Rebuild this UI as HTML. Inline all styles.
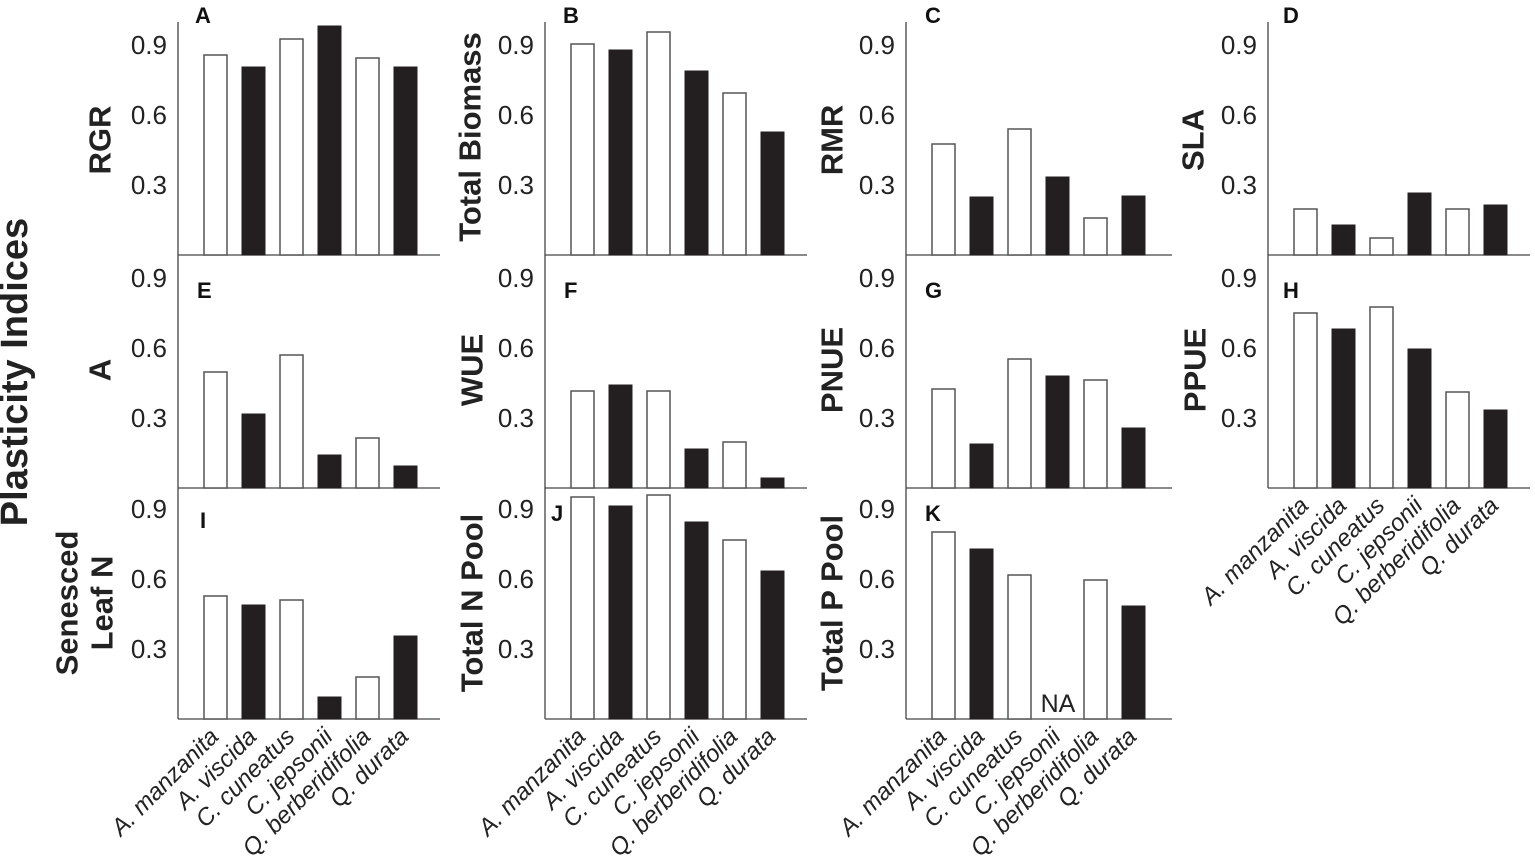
<!DOCTYPE html>
<html><head><meta charset="utf-8"><style>
html,body{margin:0;padding:0;background:#fff;}
svg{display:block;font-family:"Liberation Sans",Arial,sans-serif;}
.t{font-size:26px;fill:#222;text-anchor:end;}
.yl{font-size:31px;font-weight:bold;fill:#222;text-anchor:middle;dominant-baseline:central;}
.pl{font-size:22px;font-weight:bold;fill:#111;}
.xl{font-size:24px;font-style:italic;fill:#222;text-anchor:end;}
.w{fill:#fff;stroke:#555;stroke-width:1.5;}
.b{fill:#231f20;stroke:#231f20;stroke-width:1;}
.ax{stroke:#444;stroke-width:1.3;fill:none;}
</style></head><body>
<svg width="1535" height="863" viewBox="0 0 1535 863">
<text class="yl" style="font-size:38px" transform="translate(15,372) rotate(-90)">Plasticity Indices</text>

<g class="ax">
<path d="M178,22V719 M178,255H440 M178,488H440 M178,719H440"/>
<path d="M545,22V719 M545,255H807 M545,488H807 M545,719H807"/>
<path d="M906,22V719 M906,255H1172 M906,488H1172 M906,719H1172"/>
<path d="M1268,22V488 M1268,255H1530 M1268,488H1530"/>
</g>

<g class="t">
<text x="167" y="54">0.9</text><text x="167" y="124">0.6</text><text x="167" y="194">0.3</text>
<text x="167" y="287">0.9</text><text x="167" y="357">0.6</text><text x="167" y="427">0.3</text>
<text x="167" y="518">0.9</text><text x="167" y="588">0.6</text><text x="167" y="658">0.3</text>
<text x="534" y="54">0.9</text><text x="534" y="124">0.6</text><text x="534" y="194">0.3</text>
<text x="534" y="287">0.9</text><text x="534" y="357">0.6</text><text x="534" y="427">0.3</text>
<text x="534" y="518">0.9</text><text x="534" y="588">0.6</text><text x="534" y="658">0.3</text>
<text x="895" y="54">0.9</text><text x="895" y="124">0.6</text><text x="895" y="194">0.3</text>
<text x="895" y="287">0.9</text><text x="895" y="357">0.6</text><text x="895" y="427">0.3</text>
<text x="895" y="518">0.9</text><text x="895" y="588">0.6</text><text x="895" y="658">0.3</text>
<text x="1257" y="54">0.9</text><text x="1257" y="124">0.6</text><text x="1257" y="194">0.3</text>
<text x="1257" y="287">0.9</text><text x="1257" y="357">0.6</text><text x="1257" y="427">0.3</text>
</g>

<g class="pl">
<text x="195" y="23">A</text><text x="563" y="23">B</text><text x="925" y="23">C</text><text x="1283" y="23">D</text>
<text x="197" y="298">E</text><text x="564" y="298">F</text><text x="925" y="298">G</text><text x="1283" y="298">H</text>
<text x="200" y="528">I</text><text x="551" y="521">J</text><text x="925" y="521">K</text>
</g>

<text class="yl" transform="translate(100,140) rotate(-90)">RGR</text>
<text class="yl" transform="translate(100,370) rotate(-90)">A</text>
<text class="yl" transform="translate(67,603) rotate(-90)">Senesced</text>
<text class="yl" transform="translate(102,603) rotate(-90)">Leaf N</text>
<text class="yl" transform="translate(470,137) rotate(-90)">Total Biomass</text>
<text class="yl" transform="translate(472,370) rotate(-90)">WUE</text>
<text class="yl" transform="translate(472,603) rotate(-90)">Total N Pool</text>
<text class="yl" transform="translate(832,140) rotate(-90)">RMR</text>
<text class="yl" transform="translate(832,370) rotate(-90)">PNUE</text>
<text class="yl" transform="translate(832,603) rotate(-90)">Total P Pool</text>
<text class="yl" transform="translate(1193,140) rotate(-90)">SLA</text>
<text class="yl" transform="translate(1195,370) rotate(-90)">PPUE</text>

<rect class="w" x="204" y="55" width="23" height="200"/><rect class="b" x="242" y="67" width="23" height="188"/><rect class="w" x="280" y="39" width="23" height="216"/><rect class="b" x="318" y="26" width="23" height="229"/><rect class="w" x="356" y="58" width="23" height="197"/><rect class="b" x="394" y="67" width="23" height="188"/>
<rect class="w" x="571" y="44" width="23" height="211"/><rect class="b" x="609" y="50" width="23" height="205"/><rect class="w" x="647" y="32" width="23" height="223"/><rect class="b" x="685" y="71" width="23" height="184"/><rect class="w" x="723" y="93" width="23" height="162"/><rect class="b" x="761" y="132" width="23" height="123"/>
<rect class="w" x="932" y="144" width="23" height="111"/><rect class="b" x="970" y="197" width="23" height="58"/><rect class="w" x="1008" y="129" width="23" height="126"/><rect class="b" x="1046" y="177" width="23" height="78"/><rect class="w" x="1084" y="218" width="23" height="37"/><rect class="b" x="1122" y="196" width="23" height="59"/>
<rect class="w" x="1294" y="209" width="23" height="46"/><rect class="b" x="1332" y="225" width="23" height="30"/><rect class="w" x="1370" y="238" width="23" height="17"/><rect class="b" x="1408" y="193" width="23" height="62"/><rect class="w" x="1446" y="209" width="23" height="46"/><rect class="b" x="1484" y="205" width="23" height="50"/>
<rect class="w" x="204" y="372" width="23" height="116"/><rect class="b" x="242" y="414" width="23" height="74"/><rect class="w" x="280" y="355" width="23" height="133"/><rect class="b" x="318" y="455" width="23" height="33"/><rect class="w" x="356" y="438" width="23" height="50"/><rect class="b" x="394" y="466" width="23" height="22"/>
<rect class="w" x="571" y="391" width="23" height="97"/><rect class="b" x="609" y="385" width="23" height="103"/><rect class="w" x="647" y="391" width="23" height="97"/><rect class="b" x="685" y="449" width="23" height="39"/><rect class="w" x="723" y="442" width="23" height="46"/><rect class="b" x="761" y="478" width="23" height="10"/>
<rect class="w" x="932" y="389" width="23" height="99"/><rect class="b" x="970" y="444" width="23" height="44"/><rect class="w" x="1008" y="359" width="23" height="129"/><rect class="b" x="1046" y="376" width="23" height="112"/><rect class="w" x="1084" y="380" width="23" height="108"/><rect class="b" x="1122" y="428" width="23" height="60"/>
<rect class="w" x="1294" y="313" width="23" height="175"/><rect class="b" x="1332" y="329" width="23" height="159"/><rect class="w" x="1370" y="307" width="23" height="181"/><rect class="b" x="1408" y="349" width="23" height="139"/><rect class="w" x="1446" y="392" width="23" height="96"/><rect class="b" x="1484" y="410" width="23" height="78"/>
<rect class="w" x="204" y="596" width="23" height="123"/><rect class="b" x="242" y="605" width="23" height="114"/><rect class="w" x="280" y="600" width="23" height="119"/><rect class="b" x="318" y="697" width="23" height="22"/><rect class="w" x="356" y="677" width="23" height="42"/><rect class="b" x="394" y="636" width="23" height="83"/>
<rect class="w" x="571" y="497" width="23" height="222"/><rect class="b" x="609" y="506" width="23" height="213"/><rect class="w" x="647" y="495" width="23" height="224"/><rect class="b" x="685" y="522" width="23" height="197"/><rect class="w" x="723" y="540" width="23" height="179"/><rect class="b" x="761" y="571" width="23" height="148"/>
<rect class="w" x="932" y="532" width="23" height="187"/><rect class="b" x="970" y="549" width="23" height="170"/><rect class="w" x="1008" y="575" width="23" height="144"/><rect class="w" x="1084" y="580" width="23" height="139"/><rect class="b" x="1122" y="606" width="23" height="113"/>
<text x="1058" y="712" style="font-size:25px;fill:#222;text-anchor:middle">NA</text>

<g class="xl">
<text transform="translate(220,738) rotate(-45)">A. manzanita</text><text transform="translate(258,738) rotate(-45)">A. viscida</text><text transform="translate(296,738) rotate(-45)">C. cuneatus</text><text transform="translate(334,738) rotate(-45)">C. jepsonii</text><text transform="translate(372,738) rotate(-45)">Q. berberidifolia</text><text transform="translate(410,738) rotate(-45)">Q. durata</text>
<text transform="translate(587,738) rotate(-45)">A. manzanita</text><text transform="translate(625,738) rotate(-45)">A. viscida</text><text transform="translate(663,738) rotate(-45)">C. cuneatus</text><text transform="translate(701,738) rotate(-45)">C. jepsonii</text><text transform="translate(739,738) rotate(-45)">Q. berberidifolia</text><text transform="translate(777,738) rotate(-45)">Q. durata</text>
<text transform="translate(948,738) rotate(-45)">A. manzanita</text><text transform="translate(986,738) rotate(-45)">A. viscida</text><text transform="translate(1024,738) rotate(-45)">C. cuneatus</text><text transform="translate(1062,738) rotate(-45)">C. jepsonii</text><text transform="translate(1100,738) rotate(-45)">Q. berberidifolia</text><text transform="translate(1138,738) rotate(-45)">Q. durata</text>
<text transform="translate(1310,507) rotate(-45)">A. manzanita</text><text transform="translate(1348,507) rotate(-45)">A. viscida</text><text transform="translate(1386,507) rotate(-45)">C. cuneatus</text><text transform="translate(1424,507) rotate(-45)">C. jepsonii</text><text transform="translate(1462,507) rotate(-45)">Q. berberidifolia</text><text transform="translate(1500,507) rotate(-45)">Q. durata</text>
</g>
</svg>
</body></html>
